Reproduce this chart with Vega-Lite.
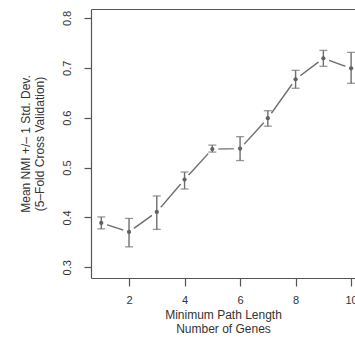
{
  "$schema": "https://vega.github.io/schema/vega-lite/v6.json",
  "autosize": "none",
  "width": 264,
  "height": 269,
  "padding": {"left": 91, "top": 9, "right": 0, "bottom": 61},
  "background": "white",
  "config": {
    "view": {"stroke": null},
    "font": "Liberation Sans",
    "axis": {"grid": false, "domainColor": "#555", "tickColor": "#555", "labelColor": "#333", "titleColor": "#333", "labelFont": "Liberation Sans", "titleFont": "Liberation Sans", "labelFontSize": 11, "titleFontSize": 12, "titleFontWeight": "normal", "domainWidth": 1.2, "tickWidth": 1.2}
  },
  "data": {"values": [
    {"x": 1, "mean": 0.389, "lo": 0.377, "hi": 0.401},
    {"x": 2, "mean": 0.371, "lo": 0.341, "hi": 0.398},
    {"x": 3, "mean": 0.411, "lo": 0.376, "hi": 0.443},
    {"x": 4, "mean": 0.476, "lo": 0.457, "hi": 0.491},
    {"x": 5, "mean": 0.537, "lo": 0.531, "hi": 0.545},
    {"x": 6, "mean": 0.538, "lo": 0.514, "hi": 0.562},
    {"x": 7, "mean": 0.599, "lo": 0.583, "hi": 0.614},
    {"x": 8, "mean": 0.677, "lo": 0.659, "hi": 0.695},
    {"x": 9, "mean": 0.719, "lo": 0.703, "hi": 0.735},
    {"x": 10, "mean": 0.699, "lo": 0.669, "hi": 0.731}
  ]},
  "resolve": {"axis": {"x": "independent", "y": "independent"}},
  "layer": [
    {
      "mark": {"type": "line", "color": "#6e6e6e", "strokeWidth": 1.4},
      "encoding": {
        "x": {"field": "x", "type": "quantitative", "scale": {"domain": [0.63, 10.14], "nice": false, "zero": false},
          "axis": {"values": [2, 4, 6, 8, 10], "tickSize": 8, "labelPadding": 8, "labelFlush": false, "labelOverlap": false,
            "title": ["Minimum Path Length", "Number of Genes"], "titlePadding": 4, "titleLineHeight": 14.7}},
        "y": {"field": "mean", "type": "quantitative", "scale": {"domain": [0.2785, 0.818], "nice": false, "zero": false},
          "axis": {"values": [0.3, 0.4, 0.5, 0.6, 0.7, 0.8], "format": ".1f", "tickSize": 7, "labelAngle": -90, "labelAlign": "center", "labelBaseline": "bottom", "labelPadding": 12,
            "title": ["Mean NMI +/\u2013 1 Std. Dev.", "(5\u2013Fold Cross Validation)"], "titlePadding": 15, "titleLineHeight": 13.5}}
      }
    },
    {
      "mark": {"type": "point", "filled": true, "color": "white", "opacity": 1, "size": 150},
      "encoding": {
        "x": {"field": "x", "type": "quantitative", "axis": {"orient": "top", "ticks": false, "labels": false, "title": null, "domain": true}},
        "y": {"field": "mean", "type": "quantitative", "axis": null}
      }
    },
    {
      "mark": {"type": "rule", "color": "#6e6e6e", "strokeWidth": 1.4},
      "encoding": {
        "x": {"field": "x", "type": "quantitative", "axis": null},
        "y": {"field": "lo", "type": "quantitative", "axis": null},
        "y2": {"field": "hi"}
      }
    },
    {
      "mark": {"type": "tick", "orient": "horizontal", "color": "#6e6e6e", "size": 8, "thickness": 1.3},
      "encoding": {
        "x": {"field": "x", "type": "quantitative", "axis": null},
        "y": {"field": "lo", "type": "quantitative", "axis": null}
      }
    },
    {
      "mark": {"type": "tick", "orient": "horizontal", "color": "#6e6e6e", "size": 8, "thickness": 1.3},
      "encoding": {
        "x": {"field": "x", "type": "quantitative", "axis": null},
        "y": {"field": "hi", "type": "quantitative", "axis": null}
      }
    },
    {
      "mark": {"type": "point", "filled": true, "color": "#626262", "opacity": 1, "size": 18},
      "encoding": {
        "x": {"field": "x", "type": "quantitative", "axis": null},
        "y": {"field": "mean", "type": "quantitative", "axis": null}
      }
    }
  ]
}
